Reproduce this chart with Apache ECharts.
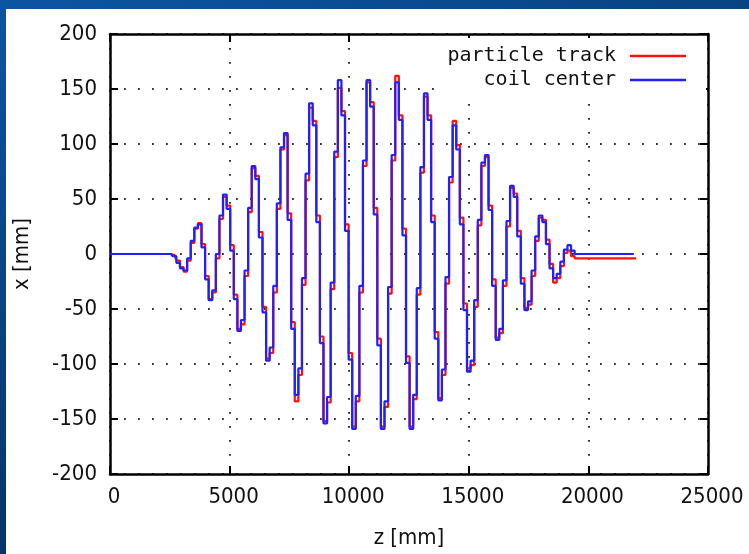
<!DOCTYPE html>
<html><head><meta charset="utf-8">
<script src="https://cdn.jsdelivr.net/npm/echarts@6/dist/echarts.min.js"></script>
<style>html,body{margin:0;padding:0;background:#0b4f9c;} #c{width:749px;height:554px;}</style>
</head><body><div id="c"></div>
<script>
// z positions along the undulator [mm]
const zPos = [0, 2400, 2550, 2700, 2850, 3000, 3150, 3300, 3450, 3600, 3750, 3900, 4050, 4200, 4350, 4500, 4650, 4800, 4950, 5100, 5250, 5400, 5550, 5700, 5850, 6000, 6150, 6300, 6450, 6600, 6750, 6900, 7050, 7200, 7350, 7500, 7650, 7800, 7950, 8100, 8250, 8400, 8550, 8700, 8850, 9000, 9150, 9300, 9450, 9600, 9750, 9900, 10050, 10200, 10350, 10500, 10650, 10800, 10950, 11100, 11250, 11400, 11550, 11700, 11850, 12000, 12150, 12300, 12450, 12600, 12750, 12900, 13050, 13200, 13350, 13500, 13650, 13800, 13950, 14100, 14250, 14400, 14550, 14700, 14850, 15000, 15150, 15300, 15450, 15600, 15750, 15900, 16050, 16200, 16350, 16500, 16650, 16800, 16950, 17100, 17250, 17400, 17550, 17700, 17850, 18000, 18150, 18300, 18450, 18600, 18750, 18900, 19050, 19200, 19350, 19500];
// particle track x [mm]
const trackX = [0, 0, 0, -1, -6, -12, -16, -6, 10, 23, 28, 9, -20, -41, -35, -4, 32, 52, 44, 8, -37, -68, -64, -20, 38, 78, 71, 20, -48, -95, -90, -35, 41, 95, 108, 37, -62, -134, -110, -28, 67, 133, 121, 35, -75, -152, -135, -32, 88, 151, 130, 27, -90, -157, -134, -35, 80, 156, 138, 42, -77, -157, -139, -36, 85, 162, 126, 23, -93, -157, -132, -37, 74, 143, 126, 35, -71, -131, -110, -27, 65, 121, 99, 33, -45, -104, -101, -48, 26, 80, 88, 44, -23, -76, -72, -29, 25, 60, 55, 21, -22, -49, -46, -20, 12, 33, 31, 13, -9, -26, -22, -11, 1, 3, -2, -4];
// coil center x [mm]
const coilX = [0, 0, 0, -2, -8, -13, -15, -4, 12, 24, 27, 6, -23, -42, -33, 0, 35, 54, 41, 3, -41, -70, -60, -15, 42, 80, 68, 15, -53, -97, -85, -29, 46, 97, 110, 31, -68, -128, -104, -22, 73, 137, 117, 29, -81, -154, -130, -26, 93, 158, 126, 21, -96, -159, -129, -29, 85, 158, 134, 36, -83, -159, -134, -30, 90, 156, 122, 17, -99, -159, -128, -31, 79, 146, 122, 29, -77, -133, -105, -21, 70, 117, 95, 27, -51, -107, -97, -42, 31, 83, 90, 40, -29, -78, -68, -24, 30, 62, 52, 16, -27, -51, -43, -15, 16, 35, 29, 9, -13, -22, -18, -7, 4, 8, 3, 0];
const trackEnd = [22000, -4];
const coilEnd = [21900, 0];
const seriesNames = ['particle track', 'coil center'];
const zRange = [0, 25000, 5000];
const xRange = [-200, 200, 50];

const trackData = zPos.map((z, i) => [z, trackX[i]]).concat([trackEnd]);
const coilData = zPos.map((z, i) => [z, coilX[i]]).concat([coilEnd]);

const labelFont = "'DejaVu Sans Condensed', 'Liberation Sans', sans-serif";
const axisLineStyle = { color: '#000', width: 2.5 };
const tickStyle = { show: true, inside: true, length: 8, lineStyle: { color: '#000', width: 2 } };
const dotted = { show: true, lineStyle: { color: '#333', width: 2, type: [1.8, 12.2] } };
const plain = v => String(v);

const chart = echarts.init(document.getElementById('c'), null, { renderer: 'canvas' });
chart.setOption({
  animation: false,
  backgroundColor: { type: 'linear', x: 0, y: 0, x2: 0.3, y2: 1, colorStops: [{ offset: 0, color: '#0c55a3' }, { offset: 1, color: '#05305f' }] },
  graphic: [{ type: 'rect', z: -100, silent: true, shape: { x: 6, y: 9, width: 743, height: 545 }, style: { fill: '#ffffff' } }],
  grid: { left: 110, right: 41, top: 34, bottom: 75 },
  legend: {
    data: seriesNames, orient: 'vertical', align: 'right', right: 43, top: 38,
    padding: [8, 20, 4, 6], itemGap: 4, itemWidth: 56, itemHeight: 2.5, icon: 'rect',
    backgroundColor: '#ffffff',
    textStyle: { fontFamily: "'DejaVu Sans Mono', monospace", fontSize: 20, color: '#111', padding: [0, 9, 0, 0] }
  },
  xAxis: [{
    type: 'value', min: zRange[0], max: zRange[1], interval: zRange[2],
    name: 'z [mm]', nameLocation: 'middle', nameGap: 53,
    nameTextStyle: { fontFamily: labelFont, fontSize: 22, color: '#111' },
    axisLine: { show: true, onZero: false, lineStyle: axisLineStyle },
    axisTick: tickStyle,
    axisLabel: { fontFamily: labelFont, fontSize: 22, color: '#111', margin: 12, formatter: plain, padding: [0, 0, 0, 8] },
    splitLine: dotted
  }, {
    type: 'value', position: 'top', min: zRange[0], max: zRange[1], interval: zRange[2],
    axisLine: { show: true, onZero: false, lineStyle: axisLineStyle },
    axisTick: tickStyle, axisLabel: { show: false }, splitLine: { show: false }
  }],
  yAxis: [{
    type: 'value', min: xRange[0], max: xRange[1], interval: xRange[2],
    name: 'x [mm]', nameLocation: 'middle', nameGap: 77,
    nameTextStyle: { fontFamily: labelFont, fontSize: 22, color: '#111' },
    axisLine: { show: true, onZero: false, lineStyle: axisLineStyle },
    axisTick: tickStyle,
    axisLabel: { fontFamily: labelFont, fontSize: 22, color: '#111', margin: 13, formatter: plain },
    splitLine: dotted
  }, {
    type: 'value', position: 'right', min: xRange[0], max: xRange[1], interval: xRange[2],
    axisLine: { show: true, onZero: false, lineStyle: axisLineStyle },
    axisTick: tickStyle, axisLabel: { show: false }, splitLine: { show: false }
  }],
  series: [{
    name: seriesNames[0], type: 'line', step: 'middle', data: trackData,
    showSymbol: false, symbol: 'none', color: '#ff1010',
    lineStyle: { color: '#ff1010', width: 2.2 }, z: 2
  }, {
    name: seriesNames[1], type: 'line', step: 'middle', data: coilData,
    showSymbol: false, symbol: 'none', color: '#2020ff',
    lineStyle: { color: '#2020ff', width: 2.2 }, z: 3
  }]
});
</script></body></html>
